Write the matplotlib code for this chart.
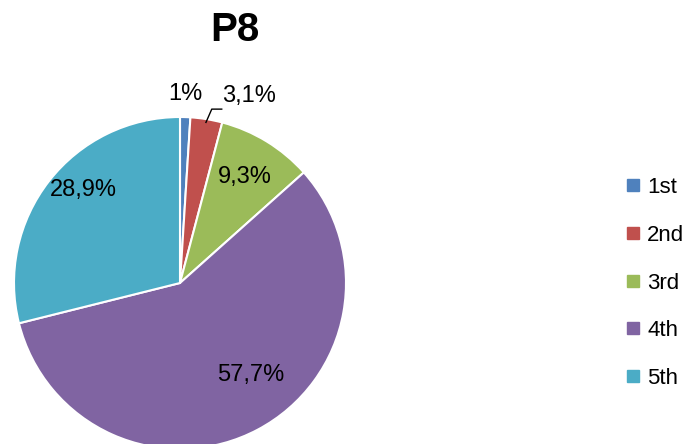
#!/usr/bin/env python3

import numpy as np
import matplotlib
matplotlib.use("Agg")
import matplotlib.pyplot as plt
from matplotlib.lines import Line2D

title = "P8"
categories = ["1st", "2nd", "3rd", "4th", "5th"]
shares = [1.0, 3.1, 9.3, 57.7, 28.9]
share_labels = ["1%", "3,1%", "9,3%", "57,7%", "28,9%"]
colors = ["#4F81BD", "#C0504D", "#9BBB59", "#8064A2", "#4BACC6"]

# label placement: (radius, angle shift in degrees) relative to each slice middle
label_radius = [1.14, 1.20, 0.75, 0.70, 0.81]
label_shift = [0.3, -11.0, 0.0, 9.4, -5.8]

plt.rcParams["font.family"] = ["Liberation Sans", "DejaVu Sans"]

fig = plt.figure(figsize=(6.93, 4.44), dpi=100)
W, H = 693, 444
cx, cy, r = 180, 283, 166
ax = fig.add_axes([(cx - r) / W, (H - cy - r) / H, 2 * r / W, 2 * r / H])

wedges, _ = ax.pie(shares, colors=colors, startangle=90, counterclock=False,
                   radius=1, wedgeprops=dict(edgecolor="white", linewidth=1.5))
for w in wedges:
    w.set_clip_on(False)
ax.set_xlim(-1, 1)
ax.set_ylim(-1, 1)
ax.set_aspect("equal")
ax.axis("off")

for w, lab, rad, sh in zip(wedges, share_labels, label_radius, label_shift):
    mid = np.deg2rad((w.theta1 + w.theta2) / 2 + sh)
    ax.text(rad * np.cos(mid), rad * np.sin(mid), lab, ha="center", va="center",
            fontsize=17, color="black")

# leader line for the small 2nd slice
w = wedges[1]
mid = np.deg2rad((w.theta1 + w.theta2) / 2)
x0, y0 = 0.98 * np.cos(mid), 0.98 * np.sin(mid)
ax.plot([x0, x0 + 0.035, x0 + 0.095], [y0, y0 + 0.08, y0 + 0.08],
        color="black", lw=1, clip_on=False)

fig.text(235 / W, 1 - 30 / H, title, ha="center", va="center",
         fontsize=29, fontweight="bold")

handles = [Line2D([], [], marker="s", linestyle="none", markersize=9,
                  markerfacecolor=c, markeredgecolor=c) for c in colors]
fig.legend(handles, categories, loc="center left", bbox_to_anchor=(617 / W, 1 - 283 / H),
           frameon=False, fontsize=16, handlelength=0.6, handletextpad=0.35,
           labelspacing=1.2, borderaxespad=0)

fig.savefig("out.png", dpi=100)
